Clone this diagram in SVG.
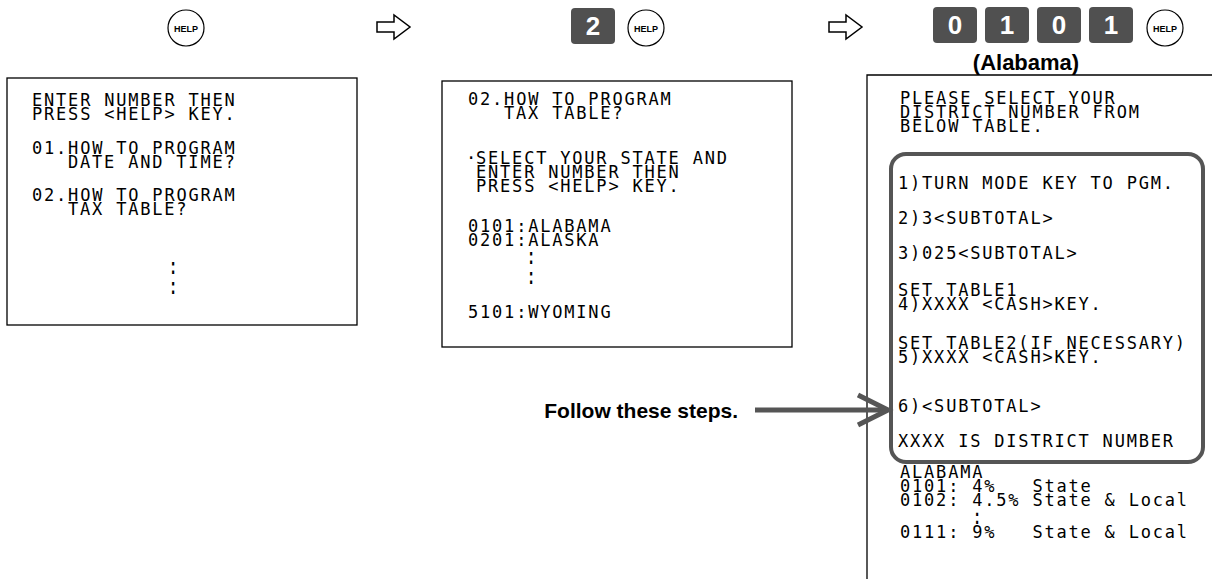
<svg xmlns="http://www.w3.org/2000/svg" width="1212" height="579" viewBox="0 0 1212 579">
<style>
.lcd{font-family:"DejaVu Sans Mono","Liberation Mono",monospace;font-size:17px;letter-spacing:1.8px;fill:#000;white-space:pre}
.box{fill:#fff;stroke:#000;stroke-width:1.3}
.key{fill:#505050}
.keyt{font-family:"Liberation Sans",Arial,sans-serif;font-weight:bold;font-size:26px;fill:#fff;text-anchor:middle}
.help{fill:#fff;stroke:#000;stroke-width:1.2}
.helpt{font-family:"Liberation Sans",Arial,sans-serif;font-weight:bold;font-size:9px;fill:#000;text-anchor:middle}
.step{fill:#fff;stroke:#000;stroke-width:1.5;stroke-linejoin:miter}
.lbl{font-family:"Liberation Sans",Arial,sans-serif;font-weight:bold;fill:#000}
</style>
<defs>
<path id="arr" d="M-17,-5 L0,-5 L0,-12 L16,0 L0,12 L0,5 L-17,5 Z"/>
</defs>

<g id="step-arrow-1"><use href="#arr" class="step" transform="translate(394,27)"/></g>
<g id="step-arrow-2"><use href="#arr" class="step" transform="translate(846,27)"/></g>

<g id="keys-1">
<circle class="help" cx="186" cy="28" r="18"/>
<text class="helpt" x="186" y="31.5">HELP</text>
</g>

<g id="keys-2">
<rect class="key" x="571" y="8" width="44" height="36" rx="4"/>
<text class="keyt" x="593" y="35">2</text>
<circle class="help" cx="646" cy="28" r="18"/>
<text class="helpt" x="646" y="31.5">HELP</text>
</g>

<g id="keys-3">
<rect class="key" x="933" y="7" width="44" height="36" rx="4"/>
<text class="keyt" x="955" y="34">0</text>
<rect class="key" x="985" y="7" width="44" height="36" rx="4"/>
<text class="keyt" x="1007" y="34">1</text>
<rect class="key" x="1037" y="7" width="44" height="36" rx="4"/>
<text class="keyt" x="1059" y="34">0</text>
<rect class="key" x="1089" y="7" width="44" height="36" rx="4"/>
<text class="keyt" x="1111" y="34">1</text>
<circle class="help" cx="1165" cy="28" r="18"/>
<text class="helpt" x="1165" y="31.5">HELP</text>
<text class="lbl" x="1026" y="70" font-size="22" text-anchor="middle">(Alabama)</text>
</g>

<g id="screen-1">
<rect class="box" x="7" y="78" width="350" height="247"/>
<text class="lcd"><tspan x="32" y="106">ENTER NUMBER THEN</tspan><tspan x="32" y="120">PRESS &lt;HELP&gt; KEY.</tspan></text>
<text class="lcd"><tspan x="32" y="154">01.HOW TO PROGRAM</tspan><tspan x="68" y="168">DATE AND TIME?</tspan></text>
<text class="lcd"><tspan x="32" y="201">02.HOW TO PROGRAM</tspan><tspan x="68" y="215">TAX TABLE?</tspan></text>
<text class="lcd" transform="translate(168,274) scale(1,1.4)"><tspan x="0" y="0">:</tspan><tspan x="0" y="14.3">:</tspan></text>
</g>

<g id="screen-2">
<rect class="box" x="442" y="81" width="350" height="266"/>
<text class="lcd"><tspan x="468" y="105">02.HOW TO PROGRAM</tspan><tspan x="504" y="119">TAX TABLE?</tspan></text>
<text class="lcd"><tspan x="466" y="164">·</tspan><tspan x="476" y="164">SELECT YOUR STATE AND</tspan><tspan x="476" y="178">ENTER NUMBER THEN</tspan><tspan x="476" y="192">PRESS &lt;HELP&gt; KEY.</tspan></text>
<text class="lcd"><tspan x="468" y="232">0101:ALABAMA</tspan><tspan x="468" y="246">0201:ALASKA</tspan></text>
<text class="lcd" transform="translate(526,264) scale(1,1.4)"><tspan x="0" y="0">:</tspan><tspan x="0" y="14.3">:</tspan></text>
<text class="lcd" x="468" y="318">5101:WYOMING</text>
</g>

<g id="screen-3">
<path d="M867,579 L867,75 L1212,75" fill="none" stroke="#000" stroke-width="1.3"/>
<text class="lcd"><tspan x="900" y="104">PLEASE SELECT YOUR</tspan><tspan x="900" y="118">DISTRICT NUMBER FROM</tspan><tspan x="900" y="132">BELOW TABLE.</tspan></text>
<rect x="891" y="154" width="312" height="308" rx="15" fill="none" stroke="#555" stroke-width="4"/>
<text class="lcd" x="898" y="189">1)TURN MODE KEY TO PGM.</text>
<text class="lcd" x="898" y="224">2)3&lt;SUBTOTAL&gt;</text>
<text class="lcd" x="898" y="259">3)025&lt;SUBTOTAL&gt;</text>
<text class="lcd"><tspan x="898" y="296">SET TABLE1</tspan><tspan x="898" y="310">4)XXXX &lt;CASH&gt;KEY.</tspan></text>
<text class="lcd"><tspan x="898" y="349">SET TABLE2(IF NECESSARY)</tspan><tspan x="898" y="363">5)XXXX &lt;CASH&gt;KEY.</tspan></text>
<text class="lcd" x="898" y="412">6)&lt;SUBTOTAL&gt;</text>
<text class="lcd" x="898" y="447">XXXX IS DISTRICT NUMBER</text>
<text class="lcd" xml:space="preserve"><tspan x="900" y="478">ALABAMA</tspan><tspan x="900" y="492">0101: 4%   State</tspan><tspan x="900" y="506">0102: 4.5% State &amp; Local</tspan></text>
<text class="lcd" transform="translate(972,524) scale(1,1.2)">:</text>
<text class="lcd" xml:space="preserve" x="900" y="538">0111: 9%   State &amp; Local</text>
</g>

<g id="callout">
<text class="lbl" x="738" y="418" font-size="21" text-anchor="end">Follow these steps.</text>
</g>

<g id="connectors">
<line x1="755" y1="410" x2="886" y2="410" stroke="#555" stroke-width="5"/>
<polyline points="858,395 888,410 858,425" fill="none" stroke="#555" stroke-width="5"/>
</g>
</svg>
